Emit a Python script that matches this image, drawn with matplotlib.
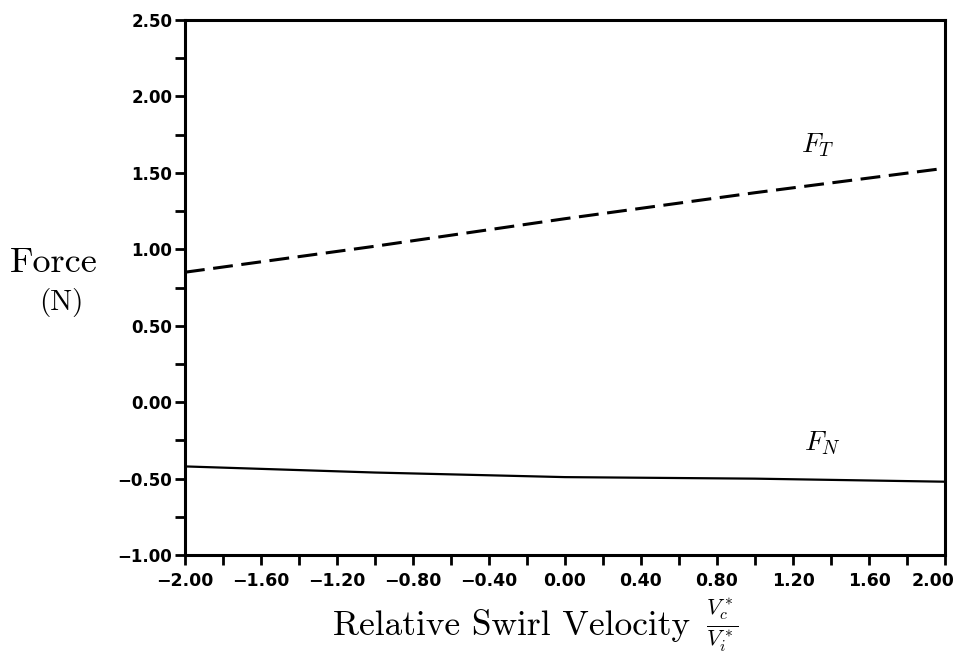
import matplotlib
matplotlib.use("Agg")
import matplotlib.pyplot as plt
import matplotlib.transforms as mtrans
from matplotlib.ticker import MultipleLocator, FixedLocator

plt.rcParams['mathtext.fontset'] = 'cm'

# swirl velocity ratio and forces
swirl = [-2.0, -1.0, 0.0, 1.0, 2.0]
f_t = [0.85, 1.02, 1.20, 1.37, 1.53]
f_n = [-0.42, -0.46, -0.49, -0.50, -0.52]

xticks = [-2.0, -1.6, -1.2, -0.8, -0.4, 0.0, 0.4, 0.8, 1.2, 1.6, 2.0]
yticks = [-1.0, -0.5, 0.0, 0.5, 1.0, 1.5, 2.0, 2.5]

def fmt(v):
    if v < 0:
        return '\u2212%.2f' % -v
    return '%.2f' % v

fig = plt.figure(figsize=(9.56, 6.64), dpi=100)
ax = fig.add_axes([0.1935, 0.164, 0.795, 0.806])

ax.plot(swirl, f_t, color='black', lw=2.2, ls=(0, (6.5, 2.8)))
ax.plot(swirl, f_n, color='black', lw=1.6)

ax.set_xlim(-2.0, 2.0)
ax.set_ylim(-1.0, 2.5)
ax.xaxis.set_major_locator(FixedLocator(xticks))
ax.xaxis.set_minor_locator(MultipleLocator(0.2))
ax.yaxis.set_major_locator(FixedLocator(yticks))
ax.yaxis.set_minor_locator(MultipleLocator(0.25))

ax.set_xticklabels([fmt(v) for v in xticks], fontweight='bold', fontsize=12.5)
ax.set_yticklabels([fmt(v) for v in yticks], fontweight='bold', fontsize=12)

ax.tick_params(which='both', direction='out', width=2.0, color='black', length=7)
ax.tick_params(axis='x', which='both', top=False, pad=5)
ax.tick_params(axis='y', which='both', right=False, pad=2)

# last x label sits a bit left of its tick, as in the scan
lab = ax.get_xticklabels()[-1]
lab.set_transform(lab.get_transform() + mtrans.ScaledTranslation(-12 / 100, 0, fig.dpi_scale_trans))

for s in ax.spines.values():
    s.set_linewidth(2.2)

ax.text(1.24, 1.68, r'$F_T$', fontsize=20, va='center')
ax.text(1.26, -0.27, r'$F_N$', fontsize=20, va='center')

fig.text(0.056, 0.604, 'Force', fontsize=26, family='cmr10', ha='center', va='center')
fig.text(0.064, 0.545, '(N)', fontsize=21, family='cmr10', ha='center', va='center')

fig.text(0.348, 0.058, 'Relative Swirl Velocity', fontsize=25.5, family='cmr10',
         ha='left', va='center')
fig.text(0.738, 0.058, r'$\frac{V_c^*}{V_i^*}$', fontsize=23, ha='left', va='center')

fig.savefig('out.png', dpi=100)
